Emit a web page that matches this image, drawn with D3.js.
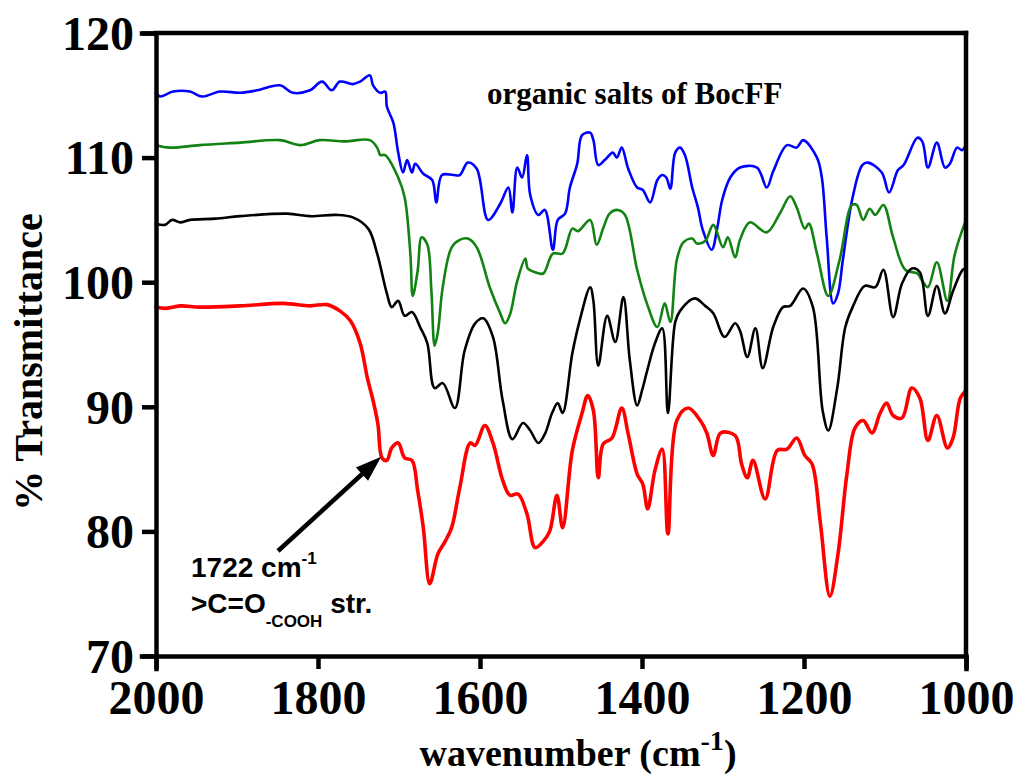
<!DOCTYPE html>
<html>
<head>
<meta charset="utf-8">
<script src="https://cdn.jsdelivr.net/npm/d3@7/dist/d3.min.js"></script>
<style>
  html, body { margin: 0; padding: 0; background: #fff; }
  svg { display: block; }
  .serif { font-family: "Liberation Serif", "Times New Roman", serif; font-weight: bold; }
  .sans { font-family: "Liberation Sans", Arial, sans-serif; font-weight: bold; }
</style>
</head>
<body>
<svg id="chart" width="1021" height="774"></svg>
<script>
// FTIR spectra, [wavenumber (cm^-1), % transmittance]
const blueSpectrum = [
  [2000,115.2],[1995,114.9],[1979,115.3],[1958,115.3],[1943,114.9],[1921,115.3],[1896,115.2],
  [1875,115.4],[1847,115.8],[1831,115.2],[1810,115.4],[1795,116.1],[1783,115.4],[1773,116.1],
  [1757,115.9],[1748,116.1],[1736,116.6],[1732,115.8],[1723,115.2],[1717,115.3],[1715,114.1],
  [1707,112.8],[1701,110.4],[1695,108.8],[1690,109.8],[1684,108.8],[1680,109.5],[1670,108.7],
  [1659,108.2],[1654,106.4],[1647,108.6],[1633,108.6],[1625,108.6],[1615,109.6],[1604,109.1],
  [1590,105.0],[1575,106.3],[1565,107.6],[1560,105.6],[1554,109.2],[1548,108.4],[1542,110.2],
  [1538,107.0],[1528,105.4],[1520,105.8],[1510,102.6],[1504,105.0],[1495,105.5],[1489,107.6],
  [1480,109.5],[1474,111.8],[1464,112.0],[1460,111.4],[1454,109.4],[1446,109.8],[1436,110.4],
  [1431,110.0],[1425,110.8],[1417,109.1],[1406,107.6],[1399,107.4],[1390,106.4],[1381,108.2],
  [1375,108.6],[1370,108.4],[1365,107.5],[1359,110.4],[1353,110.8],[1347,110.2],[1338,107.6],
  [1331,106.0],[1325,104.2],[1314,102.6],[1307,104.4],[1301,106.6],[1291,108.4],[1279,109.2],
  [1258,109.2],[1246,107.6],[1238,108.9],[1221,111.0],[1209,110.8],[1201,111.4],[1184,110.0],
  [1178,108.4],[1172,103.6],[1164,98.3],[1158,99.1],[1152,101.8],[1140,106.8],[1128,109.4],
  [1121,109.6],[1104,108.8],[1095,107.2],[1084,109.0],[1077,109.4],[1060,111.6],[1054,111.3],
  [1047,109.2],[1036,111.2],[1026,109.2],[1020,109.5],[1011,110.8],[1005,110.6],[1000,111.0]
];

const greenSpectrum = [
  [2000,111.0],[1983,110.8],[1946,111.0],[1896,111.2],[1847,111.4],[1822,111.0],[1798,111.4],
  [1767,111.3],[1736,111.4],[1727,110.8],[1723,110.2],[1717,110.2],[1701,108.4],[1693,106.8],
  [1686,102.3],[1683,98.9],[1677,100.9],[1672,103.6],[1665,103.0],[1660,99.3],[1656,94.9],
  [1652,96.0],[1646,99.6],[1635,102.8],[1625,103.4],[1615,103.5],[1604,102.8],[1588,99.6],
  [1575,97.5],[1569,96.7],[1563,97.4],[1554,100.1],[1544,101.9],[1541,101.1],[1532,100.8],
  [1522,100.7],[1510,102.3],[1498,102.3],[1486,104.3],[1479,104.1],[1464,105.0],[1456,103.0],
  [1448,104.3],[1440,105.5],[1430,105.8],[1421,105.4],[1406,101.0],[1394,98.3],[1381,96.4],
  [1372,98.3],[1365,96.8],[1357,101.8],[1349,103.2],[1338,103.5],[1332,103.1],[1322,103.3],
  [1312,104.6],[1300,102.8],[1294,103.6],[1285,102.0],[1279,103.4],[1267,104.8],[1246,104.0],
  [1230,105.5],[1217,106.9],[1209,106.0],[1199,104.3],[1194,104.7],[1184,102.3],[1170,98.9],
  [1156,101.8],[1141,106.2],[1135,106.2],[1127,105.0],[1119,105.9],[1112,105.4],[1102,106.2],
  [1090,103.6],[1075,101.0],[1060,100.7],[1054,100.1],[1047,99.6],[1036,101.6],[1023,98.5],
  [1014,102.2],[1000,105.0]
];

const blackSpectrum = [
  [2000,104.7],[1989,104.6],[1980,105.0],[1970,104.8],[1958,105.0],[1927,105.1],[1896,105.3],
  [1838,105.5],[1810,105.3],[1777,105.4],[1757,105.2],[1738,104.3],[1727,102.3],[1715,99.1],
  [1709,98.0],[1701,98.5],[1693,97.3],[1684,97.6],[1674,96.4],[1665,95.1],[1656,91.5],
  [1646,91.9],[1631,89.9],[1619,94.5],[1606,96.7],[1596,97.1],[1584,95.6],[1572,90.5],
  [1560,87.4],[1547,88.7],[1538,88.1],[1528,87.1],[1520,87.8],[1511,89.5],[1504,90.3],
  [1498,89.5],[1486,94.3],[1477,96.9],[1464,99.6],[1460,98.5],[1454,93.3],[1443,97.3],
  [1433,95.2],[1423,98.8],[1415,93.7],[1406,90.1],[1400,91.3],[1394,92.8],[1384,95.1],
  [1375,96.3],[1368,89.5],[1359,96.8],[1353,97.7],[1335,98.7],[1322,98.1],[1312,97.5],
  [1298,95.6],[1285,96.7],[1279,96.1],[1270,94.0],[1260,96.3],[1251,93.1],[1238,96.4],
  [1226,98.0],[1217,98.1],[1201,99.5],[1189,98.0],[1177,89.7],[1170,88.1],[1159,91.5],
  [1149,96.4],[1140,98.0],[1125,99.7],[1112,99.6],[1102,101.0],[1090,97.2],[1079,99.9],
  [1067,101.1],[1057,100.8],[1047,97.3],[1036,99.7],[1026,97.5],[1016,99.3],[1004,101.0],
  [1000,101.1]
];

const redSpectrum = [
  [2000,98.0],[1989,97.9],[1970,98.1],[1946,98.0],[1896,98.1],[1843,98.3],[1810,98.1],
  [1789,98.2],[1773,97.7],[1760,96.9],[1748,95.1],[1739,92.3],[1732,90.5],[1726,88.6],
  [1721,85.9],[1715,85.7],[1709,86.7],[1701,87.1],[1693,85.9],[1684,85.7],[1677,83.3],
  [1670,80.3],[1662,75.8],[1652,78.2],[1643,79.2],[1635,80.3],[1625,83.5],[1612,87.1],
  [1606,86.9],[1594,88.5],[1584,87.1],[1572,84.1],[1563,82.9],[1553,83.0],[1542,81.4],
  [1532,78.7],[1522,79.2],[1514,80.0],[1505,82.9],[1498,80.3],[1486,86.5],[1474,89.5],
  [1467,90.9],[1460,89.7],[1454,84.3],[1448,87.0],[1437,87.5],[1425,89.9],[1417,87.8],
  [1406,84.6],[1399,83.8],[1393,81.8],[1384,84.9],[1375,86.6],[1368,79.8],[1357,88.9],
  [1343,89.9],[1328,88.9],[1320,87.9],[1312,86.1],[1303,87.9],[1285,87.7],[1277,85.4],
  [1270,84.3],[1263,85.7],[1248,82.6],[1233,86.5],[1221,86.6],[1209,87.5],[1199,86.1],
  [1190,85.4],[1180,80.8],[1168,74.8],[1158,78.2],[1147,84.6],[1137,88.3],[1127,88.9],
  [1116,87.9],[1106,89.5],[1098,90.3],[1090,89.3],[1079,89.1],[1067,91.5],[1057,90.7],
  [1047,87.3],[1036,89.3],[1023,86.7],[1016,87.5],[1007,90.7],[1000,91.3]
];

const xTicks = [2000, 1800, 1600, 1400, 1200, 1000];
const yTicks = [70, 80, 90, 100, 110, 120];
const titleText = "organic salts of BocFF";
const peakWavenumber = 1722;
const peakTransmittance = 86.0;

const svg = d3.select("#chart");

const x = d3.scaleLinear().domain([2000, 1000]).range([156, 966]);
const y = d3.scaleLinear().domain([70, 120]).range([656, 33]);

const AXIS_W = 4.5;

// spectra
const line = d3.line()
  .x(d => x(d[0]))
  .y(d => y(d[1]))
  .curve(d3.curveCatmullRom.alpha(0.5));

const series = [
  { data: blueSpectrum,  color: "#0000ff", width: 2.6 },
  { data: greenSpectrum, color: "#128312", width: 2.6 },
  { data: blackSpectrum, color: "#000000", width: 2.6 },
  { data: redSpectrum,   color: "#ff0000", width: 3.6 }
];

svg.append("g").selectAll("path")
  .data(series)
  .join("path")
  .attr("fill", "none")
  .attr("stroke", d => d.color)
  .attr("stroke-width", d => d.width)
  .attr("stroke-linejoin", "round")
  .attr("stroke-linecap", "round")
  .attr("d", d => line(d.data));

// frame: top and right edges
svg.append("line")
  .attr("x1", x(2000)).attr("x2", x(1000))
  .attr("y1", y(120)).attr("y2", y(120))
  .attr("stroke", "#000").attr("stroke-width", AXIS_W).attr("stroke-linecap", "square");
svg.append("line")
  .attr("x1", x(1000)).attr("x2", x(1000))
  .attr("y1", y(120)).attr("y2", y(70))
  .attr("stroke", "#000").attr("stroke-width", AXIS_W).attr("stroke-linecap", "square");

// y axis
const yAxis = svg.append("g")
  .attr("transform", `translate(${x(2000)},0)`)
  .call(d3.axisLeft(y).tickValues(yTicks).tickSize(14).tickPadding(8).tickFormat(d3.format("d")));

// x axis
const xAxis = svg.append("g")
  .attr("transform", `translate(0,${y(70)})`)
  .call(d3.axisBottom(x).tickValues(xTicks).tickSize(13).tickPadding(11).tickFormat(d3.format("d")));

[yAxis, xAxis].forEach(g => {
  g.select(".domain").attr("stroke", "#000").attr("stroke-width", AXIS_W).attr("stroke-linecap", "square");
  g.selectAll(".tick line").attr("stroke", "#000").attr("stroke-width", AXIS_W);
  g.selectAll(".tick text")
    .attr("class", "serif")
    .attr("fill", "#000")
    .style("font-size", "48px");
});
yAxis.selectAll(".tick text").attr("dy", "0.34em");

// axis titles
svg.append("text")
  .attr("class", "serif")
  .attr("transform", `translate(42,362) rotate(-90)`)
  .attr("text-anchor", "middle")
  .style("font-size", "40px")
  .text("% Transmittance");

const xTitle = svg.append("text")
  .attr("class", "serif")
  .attr("x", 578)
  .attr("y", 766)
  .attr("text-anchor", "middle")
  .style("font-size", "38px");
xTitle.append("tspan").text("wavenumber (cm");
xTitle.append("tspan").attr("dy", -16).style("font-size", "28px").text("-1");
xTitle.append("tspan").attr("dy", 16).text(")");

// title
svg.append("text")
  .attr("class", "serif")
  .attr("x", 487)
  .attr("y", 104)
  .style("font-size", "31px")
  .text(titleText);

// annotation arrow pointing at the carboxylic C=O band
const tipX = x(peakWavenumber), tipY = y(peakTransmittance);
const tailX = 278, tailY = 551;
const ang = Math.atan2(tipY - tailY, tipX - tailX);
const headLen = 26, headHalf = 9;
const baseX = tipX - headLen * Math.cos(ang), baseY = tipY - headLen * Math.sin(ang);
svg.append("line")
  .attr("x1", tailX).attr("y1", tailY)
  .attr("x2", baseX + 4 * Math.cos(ang)).attr("y2", baseY + 4 * Math.sin(ang))
  .attr("stroke", "#000").attr("stroke-width", 4.5);
svg.append("path")
  .attr("fill", "#000")
  .attr("d", `M${tipX},${tipY}`
    + `L${baseX - headHalf * Math.sin(ang)},${baseY + headHalf * Math.cos(ang)}`
    + `L${baseX + headHalf * Math.sin(ang)},${baseY - headHalf * Math.cos(ang)}Z`);

const ann1 = svg.append("text").attr("class", "sans").attr("x", 191).attr("y", 577).style("font-size", "28px");
ann1.append("tspan").text(`${peakWavenumber} cm`);
ann1.append("tspan").attr("dy", -13).style("font-size", "17px").text("-1");

const ann2 = svg.append("text").attr("class", "sans").attr("x", 191).attr("y", 613).style("font-size", "28px");
ann2.append("tspan").text(">C=O");
ann2.append("tspan").attr("dy", 14).style("font-size", "17px").text("-COOH");
ann2.append("tspan").attr("dy", -14).text(" str.");
</script>
</body>
</html>
